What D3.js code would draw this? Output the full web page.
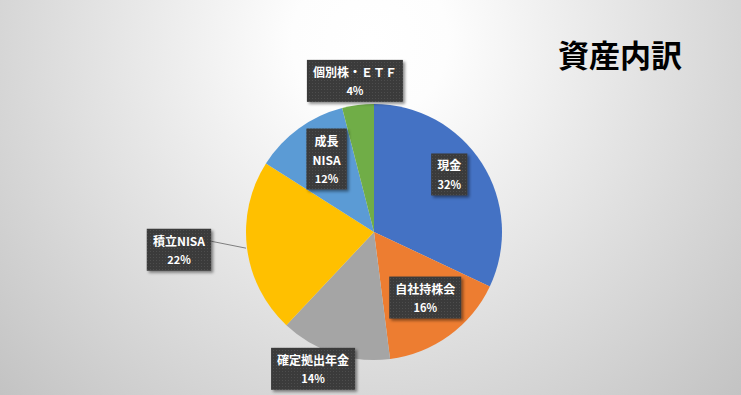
<!DOCTYPE html>
<html>
<head>
<meta charset="utf-8">
<script src="https://cdn.jsdelivr.net/npm/d3@7"></script>
<style>
  html, body { margin: 0; padding: 0; overflow: hidden; }
  svg text { font-family: "Noto Sans CJK JP", "Noto Sans", sans-serif; }
</style>
</head>
<body>
<svg id="assetChart"></svg>
<script>
// data
const categories = ["現金", "自社持株会", "確定拠出年金", "積立NISA", "成長NISA", "個別株・ＥＴＦ"];
const shares = [32, 16, 14, 22, 12, 4];
const labelLines = [["現金"], ["自社持株会"], ["確定拠出年金"], ["積立NISA"], ["成長", "NISA"], ["個別株・ＥＴＦ"]];
const sliceColors = ["#4472C4", "#ED7D31", "#A5A5A5", "#FFC000", "#5B9BD5", "#70AD47"];
const title = "資産内訳";

// label placement (fraction of radius, angle nudge in degrees)
const labelRadius = [0.74, 0.65, 1.17, 1.53, 0.68, 1.19];
const labelNudge = [-5, -2, 6, 2, 3, 0];

const width = 741, height = 395;
const cx = 374, cy = 232, radius = 128;

const svg = d3.select("svg#assetChart")
    .attr("width", width)
    .attr("height", height);

const defs = svg.append("defs");

const grad = defs.append("radialGradient")
    .attr("id", "bgGrad")
    .attr("gradientUnits", "userSpaceOnUse")
    .attr("cx", 370).attr("cy", 40).attr("r", 520);
grad.append("stop").attr("offset", "0").attr("stop-color", "#ffffff");
grad.append("stop").attr("offset", "0.15").attr("stop-color", "#fdfdfd");
grad.append("stop").attr("offset", "1").attr("stop-color", "#c2c2c2");

const dots = defs.append("pattern")
    .attr("id", "dots")
    .attr("width", 3).attr("height", 3)
    .attr("patternUnits", "userSpaceOnUse");
dots.append("rect").attr("width", 3).attr("height", 3).attr("fill", "#3b3b3b");
dots.append("rect").attr("x", 1).attr("y", 1).attr("width", 1).attr("height", 1).attr("fill", "#4d4d4d");

const shadow = defs.append("filter")
    .attr("id", "boxShadow")
    .attr("x", "-20%").attr("y", "-20%").attr("width", "150%").attr("height", "150%");
shadow.append("feDropShadow")
    .attr("dx", 2).attr("dy", 2).attr("stdDeviation", 1.6)
    .attr("flood-color", "#000").attr("flood-opacity", 0.45);

svg.append("rect")
    .attr("width", width).attr("height", height)
    .attr("fill", "url(#bgGrad)");

svg.append("text")
    .attr("x", 620)
    .attr("y", 53)
    .attr("text-anchor", "middle")
    .attr("dominant-baseline", "central")
    .attr("font-size", "31px")
    .attr("font-weight", "bold")
    .attr("fill", "#000")
    .text(title);

const data = categories.map((c, i) => ({
    name: c, value: shares[i], lines: labelLines[i], color: sliceColors[i], i: i
}));

const pie = d3.pie()
    .value((d) => d.value)
    .sort(null);

const arc = d3.arc()
    .innerRadius(0)
    .outerRadius(radius);

const arcs = pie(data);

const g = svg.append("g")
    .attr("transform", "translate(" + cx + "," + cy + ")");

g.selectAll("path.slice")
    .data(arcs)
    .enter().append("path")
    .attr("class", "slice")
    .attr("d", arc)
    .attr("fill", (d) => d.data.color);

const total = d3.sum(shares);

function labelPos(d) {
    const a = (d.startAngle + d.endAngle) / 2 + labelNudge[d.data.i] * Math.PI / 180;
    const r = radius * labelRadius[d.data.i];
    return [r * Math.sin(a), -r * Math.cos(a)];
}

const lineH = 19;

const labels = g.selectAll("g.label")
    .data(arcs)
    .enter().append("g")
    .attr("class", "label");

labels.each(function (d) {
    const sel = d3.select(this);
    const [x, y] = labelPos(d);
    const lines = d.data.lines.concat([Math.round(d.data.value / total * 100) + "%"]);
    const h = lines.length * lineH + 4;

    const rect = sel.append("rect")
        .attr("fill", "url(#dots)")
        .attr("filter", "url(#boxShadow)");

    const txt = sel.append("text")
        .attr("text-anchor", "middle")
        .attr("fill", "#fff")
        .attr("font-weight", "bold");

    lines.forEach((t, k) => {
        txt.append("tspan")
            .attr("x", x)
            .attr("y", y - h / 2 + 2 + lineH * k + lineH / 2)
            .attr("dominant-baseline", "central")
            .attr("font-size", k === lines.length - 1 ? "11px" : "12px")
            .text(t);
    });

    const w = txt.node().getBBox().width + 12;
    rect.attr("x", x - w / 2).attr("y", y - h / 2)
        .attr("width", w).attr("height", h);

    // leader line for labels placed well outside the pie
    if (labelRadius[d.data.i] > 1.4) {
        const a = (d.startAngle + d.endAngle) / 2;
        const ex = (radius + 1) * Math.sin(a), ey = -(radius + 1) * Math.cos(a);
        sel.insert("line", "rect")
            .attr("x1", x + w / 2).attr("y1", y - h / 2 + lineH / 2 + 3)
            .attr("x2", ex).attr("y2", ey)
            .attr("stroke", "#7f7f7f")
            .attr("stroke-width", 1);
    }
});
</script>
</body>
</html>
